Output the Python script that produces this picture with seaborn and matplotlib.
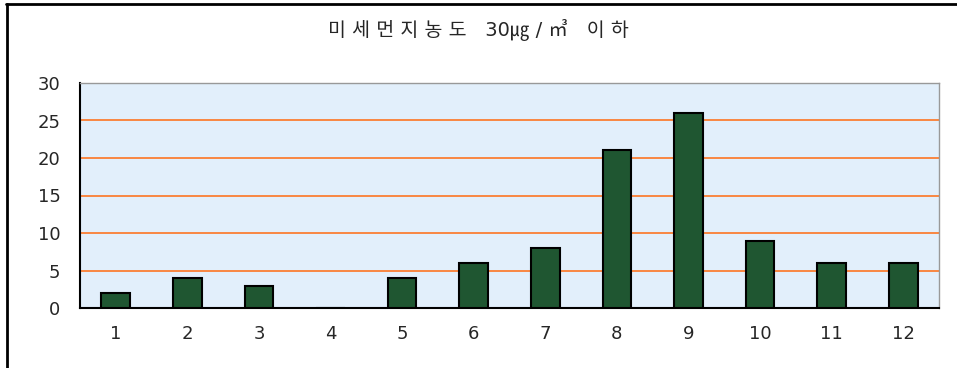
import matplotlib
matplotlib.use("Agg")
import matplotlib.pyplot as plt
import seaborn as sns
import pandas as pd
from matplotlib.lines import Line2D

months = ['1', '2', '3', '4', '5', '6', '7', '8', '9', '10', '11', '12']
counts = [2, 4, 3, 0, 4, 6, 8, 21, 26, 9, 6, 6]
title = '미 세 먼 지 농 도   30㎍ / ㎥   이 하'

sns.set_style("white")
plt.rcParams['font.family'] = ['DejaVu Sans', 'Noto Sans CJK KR']

df = pd.DataFrame({'month': months, 'count': counts})

fig = plt.figure(figsize=(9.57, 3.68), dpi=100)
ax = fig.add_axes([80 / 957, 1 - 308 / 368, (939 - 80) / 957, (308 - 83) / 368])
ax.set_facecolor('#e2effb')

sns.barplot(data=df, x='month', y='count', ax=ax, color='#1f5631',
            saturation=1, width=0.4, edgecolor='black', linewidth=1.5, zorder=3)

ax.set_ylim(0, 30)
ax.set_yticks(range(0, 31, 5))
ax.set_xlim(-0.5, 11.5)
for y in [5, 10, 15, 20, 25]:
    ax.axhline(y, color='#ff6a10', linewidth=1.1, zorder=1)

ax.set_xticks([i + 0.5 for i in range(-1, 12)], minor=True)
ax.tick_params(axis='x', which='major', length=0, pad=12, labelsize=13)
ax.tick_params(axis='x', which='minor', direction='in', length=5, width=1.2, color='black')
ax.tick_params(axis='y', direction='in', length=7, width=1.2, color='black', labelsize=13, pad=14)
ax.set_xlabel('')
ax.set_ylabel('')

for s in ['left', 'bottom']:
    ax.spines[s].set_color('black')
    ax.spines[s].set_linewidth(1.5)
for s in ['top', 'right']:
    ax.spines[s].set_color('#999999')
    ax.spines[s].set_linewidth(1)

fig.text(0.5, 1 - 30 / 368, title, ha='center', va='center', fontsize=14)

# frame lines at the left and top edge
fig.lines.append(Line2D([7 / 957, 7 / 957], [0, 1 - 4 / 368], transform=fig.transFigure,
                        color='black', linewidth=2))
fig.lines.append(Line2D([6 / 957, 1], [1 - 4 / 368, 1 - 4 / 368], transform=fig.transFigure,
                        color='black', linewidth=2))

fig.savefig('out.png', dpi=100)
